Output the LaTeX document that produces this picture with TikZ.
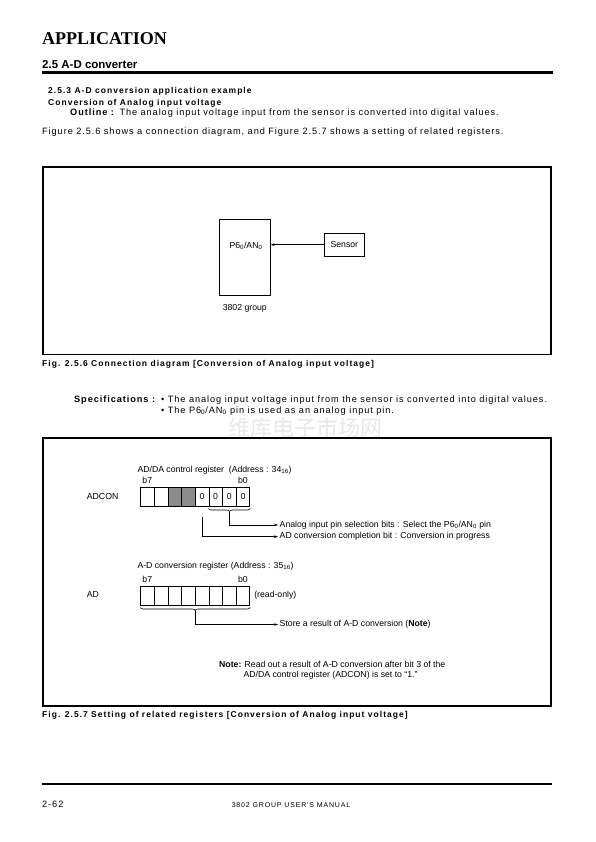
\documentclass[tikz,border=0pt]{standalone}
\usepackage{fontspec}
\setmainfont{Liberation Sans}
\newfontfamily\spaced[LetterSpace=12]{Liberation Sans}
\newfontfamily\bodyfont[LetterSpace=10]{Liberation Sans}
\newfontfamily\headserif{Liberation Serif}
\newfontfamily\cjk{Noto Sans CJK SC}
\usetikzlibrary{matrix, positioning, calc, backgrounds, arrows.meta, decorations.pathreplacing}
\newcommand{\bodysize}{\fontsize{9.2}{11}\selectfont}
\newcommand{\capsize}{\fontsize{8.5}{10}\selectfont}
\newcommand{\diagsize}{\fontsize{8.7}{10}\selectfont}
\tikzset{
  body/.style={anchor=base west, inner sep=0pt, font=\bodyfont\bodysize},
  caption/.style={anchor=base west, inner sep=0pt, font=\spaced\capsize\bfseries},
  diag/.style={inner sep=0pt, font=\diagsize},
  note/.style={diag, anchor=west, inner sep=1.5pt},
  frame/.style={line width=1.8pt},
  pointer/.style={line width=0.6pt, -{Stealth[length=4pt, width=2.6pt]}},
  regbrace/.style={line width=0.6pt, decorate, decoration={brace, mirror, amplitude=3pt}},
  regshade/.style={fill=black!45},
  register/.style={matrix of nodes, nodes in empty cells, anchor=north west, inner sep=0pt,
    column sep=-0.6pt, nodes={draw, line width=0.6pt, minimum width=13.66pt,
    minimum height=19pt, inner sep=0pt, anchor=center, font=\diagsize}},
}

\begin{document}
\begin{tikzpicture}[x=1pt, y=-1pt]
  \useasboundingbox (0,0) rectangle (595,842);
  % page head
  \node[anchor=base west, inner sep=0pt, font=\headserif\fontsize{18}{20}\selectfont\bfseries] (head) at (42,44.2) {APPLICATION};
  \node[anchor=base west, inner sep=0pt, font=\fontsize{11.5}{13}\selectfont\bfseries] (sect) at (42,68.3) {2.5 A-D converter};
  \draw[line width=3.3pt] (42,72.7) -- (552.5,72.7);
  \node[caption] (subsect) at (48,94) {2.5.3 A-D conversion application example};
  \node[caption] (topic) at (48,105.5) {Conversion of Analog input voltage};
  \node[body] (outline) at (70,115.5) {\textbf{Outline :} The analog input voltage input from the sensor is converted into digital values.};
  \node[body] (intro) at (42,134.5) {Figure 2.5.6 shows a connection diagram, and Figure 2.5.7 shows a setting of related registers.};

  % Fig. 2.5.6
  \draw[frame] (43.3,166.8) rectangle (551,354.5);
  \node[draw, line width=0.8pt, minimum width=51pt, minimum height=76.3pt] (chip) at (244.8,257.2) {};
  \node[diag] (pin) at (246,245.7) {P6\textsubscript{0}/AN\textsubscript{0}};
  \node[draw, line width=0.8pt, diag, minimum width=40pt, minimum height=22.7pt] (sensor) at (344.3,244.7) {Sensor};
  \draw[pointer] (sensor.west) -- (sensor.west -| chip.east);
  \node[diag, below=8pt of chip] (group) {3802 group};
  \node[caption] (cap1) at (42,366) {Fig. 2.5.6 Connection diagram [Conversion of Analog input voltage]};

  % specifications
  \node[inner sep=0pt, font=\cjk\fontsize{22}{22}\selectfont, text=black!9] (mark) at (305,428) {维库电子市场网};
  \node[body, font=\bodyfont\bodysize\bfseries] (spec) at (74,402) {Specifications :};
  \node[body] (spec1) at (161,402) {\textbullet\ The analog input voltage input from the sensor is converted into digital values.};
  \node[body] (spec2) at (161,413) {\textbullet\ The P6\textsubscript{0}/AN\textsubscript{0} pin is used as an analog input pin.};

  % Fig. 2.5.7
  \draw[frame] (43.3,437.7) rectangle (551,705.7);
  \node[diag, anchor=base west] (adcontitle) at (137.3,472.3) {AD/DA control register\ \ (Address : 34\textsubscript{16})};
  \matrix (adcon) [register] at (140,486.7) { & & & & 0 & 0 & 0 & 0 \\ };
  \begin{scope}[on background layer]
    \fill[regshade] (adcon-1-3.north west) rectangle (adcon-1-4.south east);
  \end{scope}
  \node[diag, anchor=west] (adconname) at (86.7,496.7) {ADCON};
  \node[diag, above=3pt of adcon-1-1] (adconb7) {b7};
  \node[diag, above=3pt of adcon-1-8] (adconb0) {b0};
  \draw[regbrace] ([yshift=-2pt]adcon-1-6.south west) -- ([yshift=-2pt]adcon-1-8.south east);
  \coordinate (seltip) at ($(adcon-1-6.south west)!0.5!(adcon-1-8.south east) + (0pt,-5pt)$);
  \coordinate (cmptop) at ([yshift=-10pt]adcon-1-5.south);
  \node[note] (selbits) at (278,525) {Analog input pin selection bits : Select the P6\textsubscript{0}/AN\textsubscript{0} pin};
  \node[note] (cmpbit) at (278,536.7) {AD conversion completion bit : Conversion in progress};
  \draw[pointer] (seltip) |- (selbits.west);
  \draw[pointer] (cmptop) |- (cmpbit.west);

  \node[diag, anchor=base west] (adtitle) at (137.3,568.7) {A-D conversion register (Address : 35\textsubscript{16})};
  \matrix (ad) [register] at (140,585.7) { & & & & & & & \\ };
  \node[diag, anchor=west] (adname) at (86.7,594.7) {AD};
  \node[diag, above=3pt of ad-1-1] (adb7) {b7};
  \node[diag, above=3pt of ad-1-8] (adb0) {b0};
  \node[diag, right=4pt of ad-1-8] (readonly) {(read-only)};
  \draw[regbrace] ([yshift=-2pt]ad-1-1.south west) -- ([yshift=-2pt]ad-1-8.south east);
  \coordinate (adtip) at ($(ad-1-1.south west)!0.5!(ad-1-8.south east) + (0pt,-5pt)$);
  \node[note] (store) at (278,624.5) {Store a result of A-D conversion (\textbf{Note})};
  \draw[pointer] (adtip) |- (store.west);

  \node[diag, anchor=base west] (note1) at (219,667) {\textbf{Note:} Read out a result of A-D conversion after bit 3 of the};
  \node[diag, anchor=base west] (note2) at (243.3,677.3) {AD/DA control register (ADCON) is set to “1.”};
  \node[caption] (cap2) at (42,717) {Fig. 2.5.7 Setting of related registers [Conversion of Analog input voltage]};

  % page foot
  \draw[line width=2pt] (42,784.3) -- (552,784.3);
  \node[body] (page) at (42,807.5) {2-62};
  \node[anchor=base, inner sep=0pt, font=\spaced\fontsize{7}{8}\selectfont] (manual) at (291,807) {3802 GROUP USER'S MANUAL};
\end{tikzpicture}
\end{document}
